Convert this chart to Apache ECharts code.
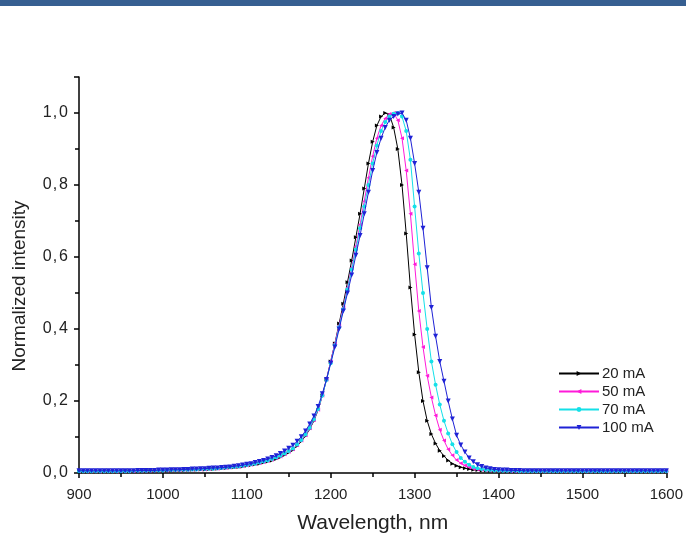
<!DOCTYPE html>
<html>
<head>
<meta charset="utf-8">
<script src="https://cdn.jsdelivr.net/npm/echarts@6/dist/echarts.min.js"></script>
<style>html,body{margin:0;padding:0;background:#fff}#c{width:686px;height:539px}</style>
</head>
<body>
<div id="c"></div>
<script>
const wavelengths = [900,905,910,915,920,925,930,935,940,945,950,955,960,965,970,975,980,985,990,995,1000,
1005,1010,1015,1020,1025,1030,1035,1040,1045,1050,1055,1060,1065,1070,1075,1080,1085,1090,1095,1100,
1105,1110,1115,1120,1125,1130,1135,1140,1145,1150,
1155,1160,1165,1170,1175,1180,1185,1190,1195,1200,1205,1210,1215,1220,1225,1230,1235,1240,1245,1250,1255,1260,1265,1270,
1275,1280,1285,1290,1295,1300,1305,1310,1315,1320,1325,1330,1335,1340,1345,1350,1355,1360,1365,1370,1375,1380,1385,1390,1395,1400,
1405,1410,1415,1420,1425,1430,1435,1440,1445,1450,1455,1460,1465,1470,1475,1480,1485,1490,1495,1500,
1505,1510,1515,1520,1525,1530,1535,1540,1545,1550,1555,1560,1565,1570,1575,1580,1585,1590,1595,1600];

const s20mA = [0.005,0.004,0.004,0.005,0.004,0.004,0.004,0.005,0.004,0.004,0.004,0.005,0.005,0.005,0.005,0.006,0.006,0.006,0.006,0.007,0.007,
0.007,0.007,0.008,0.008,0.008,0.009,0.009,0.009,0.010,0.010,0.011,0.011,0.012,0.013,0.014,0.015,0.016,0.017,0.018,0.020,
0.022,0.024,0.026,0.029,0.032,0.035,0.039,0.044,0.050,0.057,
0.064,0.075,0.088,0.103,0.122,0.145,0.175,0.215,0.26,0.31,0.36,0.415,0.47,0.53,0.59,0.655,0.72,0.79,0.86,0.92,0.965,0.99,1.0,0.995,
0.96,0.90,0.80,0.665,0.515,0.385,0.28,0.20,0.145,0.108,0.082,0.062,0.047,0.035,0.026,0.020,0.016,0.013,0.011,0.009,0.008,0.007,0.007,0.006,0.006,0.006,
0.005,0.005,0.005,0.005,0.005,0.005,0.005,0.005,0.005,0.005,0.005,0.005,0.005,0.004,0.004,0.004,0.004,0.004,0.004,0.004,
0.004,0.004,0.004,0.004,0.004,0.004,0.004,0.004,0.004,0.004,0.004,0.004,0.004,0.004,0.004,0.004,0.004,0.004,0.004,0.004];

const s50mA = [0.005,0.005,0.004,0.005,0.005,0.004,0.005,0.005,0.005,0.004,0.005,0.005,0.005,0.005,0.006,0.006,0.006,0.006,0.007,0.007,0.007,
0.007,0.008,0.008,0.008,0.009,0.009,0.009,0.010,0.010,0.010,0.011,0.012,0.012,0.013,0.014,0.015,0.016,0.017,0.019,0.021,
0.023,0.025,0.027,0.030,0.033,0.037,0.041,0.046,0.052,0.059,
0.066,0.077,0.090,0.105,0.124,0.147,0.176,0.215,0.26,0.31,0.36,0.41,0.46,0.515,0.57,0.63,0.69,0.755,0.82,0.88,0.93,0.965,0.985,0.997,
1.0,0.98,0.93,0.84,0.72,0.58,0.45,0.35,0.27,0.21,0.16,0.12,0.09,0.066,0.049,0.036,0.027,0.021,0.016,0.012,0.010,0.009,0.008,0.007,0.007,0.006,
0.006,0.006,0.005,0.005,0.005,0.005,0.005,0.005,0.005,0.005,0.005,0.005,0.005,0.005,0.005,0.005,0.005,0.005,0.005,0.005,
0.005,0.005,0.005,0.005,0.005,0.005,0.005,0.005,0.005,0.005,0.005,0.005,0.005,0.005,0.005,0.005,0.005,0.005,0.005,0.005];

const s70mA = [0.005,0.005,0.005,0.005,0.005,0.005,0.005,0.005,0.005,0.005,0.005,0.005,0.005,0.006,0.006,0.006,0.006,0.007,0.007,0.007,0.007,
0.008,0.008,0.008,0.009,0.009,0.009,0.010,0.010,0.011,0.011,0.012,0.012,0.013,0.014,0.015,0.016,0.017,0.018,0.020,0.022,
0.024,0.026,0.029,0.032,0.035,0.039,0.043,0.048,0.054,0.061,
0.068,0.079,0.092,0.107,0.126,0.149,0.178,0.215,0.258,0.305,0.355,0.405,0.455,0.51,0.565,0.62,0.68,0.74,0.80,0.86,0.91,0.95,0.975,0.99,
0.998,1.0,0.99,0.95,0.87,0.74,0.61,0.50,0.40,0.31,0.245,0.19,0.145,0.11,0.08,0.058,0.042,0.031,0.023,0.017,0.013,0.011,0.009,0.008,0.007,0.007,
0.006,0.006,0.006,0.006,0.005,0.005,0.005,0.005,0.005,0.005,0.005,0.005,0.005,0.005,0.005,0.005,0.005,0.005,0.005,0.005,
0.005,0.005,0.005,0.005,0.005,0.005,0.005,0.005,0.005,0.005,0.005,0.005,0.005,0.005,0.005,0.005,0.005,0.005,0.005,0.005];

const s100mA = [0.006,0.006,0.006,0.006,0.006,0.006,0.006,0.006,0.006,0.006,0.006,0.006,0.006,0.006,0.007,0.007,0.007,0.007,0.007,0.008,0.008,
0.008,0.009,0.009,0.009,0.010,0.010,0.011,0.011,0.012,0.012,0.013,0.014,0.014,0.015,0.016,0.017,0.019,0.020,0.022,0.024,
0.026,0.029,0.032,0.035,0.039,0.043,0.048,0.054,0.061,0.069,
0.077,0.088,0.101,0.117,0.136,0.158,0.185,0.22,0.26,0.305,0.35,0.40,0.45,0.50,0.55,0.605,0.66,0.72,0.78,0.84,0.89,0.93,0.96,0.98,
0.99,0.997,1.0,0.98,0.93,0.86,0.78,0.68,0.57,0.46,0.38,0.31,0.255,0.20,0.15,0.105,0.078,0.058,0.042,0.031,0.023,0.018,0.014,0.012,0.010,0.009,
0.008,0.008,0.007,0.007,0.007,0.006,0.006,0.006,0.006,0.006,0.006,0.006,0.006,0.006,0.006,0.006,0.006,0.006,0.006,0.006,
0.006,0.006,0.006,0.006,0.006,0.006,0.006,0.006,0.006,0.006,0.006,0.006,0.006,0.006,0.006,0.006,0.006,0.006,0.006,0.006];

const seriesNames = ['20 mA','50 mA','70 mA','100 mA'];
const yTicks = [0,0.2,0.4,0.6,0.8,1.0];
const xTicks = [900,1000,1100,1200,1300,1400,1500,1600];

function pairs(ys){ return wavelengths.map((x,i)=>[x,ys[i]]); }

const styles = [
  {color:'#000000', symbol:'triangle', rotate:-90, size:4},
  {color:'#ff1ad9', symbol:'triangle', rotate:90, size:4},
  {color:'#14e0e8', symbol:'circle', rotate:0, size:4},
  {color:'#1f22d6', symbol:'triangle', rotate:180, size:5}
];
const dataSets = [s20mA, s50mA, s70mA, s100mA];
const FONT = 'Liberation Sans, Arial, sans-serif';

const chart = echarts.init(document.getElementById('c'), null, {renderer:'canvas'});
chart.setOption({
  animation:false,
  backgroundColor:'#ffffff',
  graphic:[{type:'rect', left:0, top:0, shape:{width:686, height:6}, style:{fill:'#365f91'}}],
  grid:{left:79, right:19, top:77, bottom:66},
  legend:{
    orient:'vertical', left:553, top:361, itemWidth:40, itemHeight:6, itemGap:3,
    textStyle:{fontFamily:FONT, fontSize:15, color:'#222', padding:[0,0,0,-2]},
    data:seriesNames
  },
  xAxis:{
    type:'value', min:900, max:1600, interval:100,
    name:'Wavelength, nm', nameLocation:'middle', nameGap:40,
    nameTextStyle:{fontFamily:FONT, fontSize:21, color:'#222'},
    axisLine:{lineStyle:{color:'#000', width:1.5}},
    axisTick:{inside:false, length:5, lineStyle:{color:'#000', width:1.5}},
    minorTick:{show:true, splitNumber:2, length:4, lineStyle:{color:'#000', width:1.5}},
    axisLabel:{fontFamily:FONT, fontSize:15, color:'#222', margin:14,
      formatter:function(v){ return xTicks.indexOf(v) >= 0 ? String(v) : ''; }},
    splitLine:{show:false}
  },
  yAxis:{
    type:'value', min:0, max:1.1, interval:0.2,
    name:'Normalized intensity', nameLocation:'middle', nameGap:50,
    nameTextStyle:{fontFamily:FONT, fontSize:19, color:'#222', padding:[0,22,0,0]},
    axisLine:{show:true, lineStyle:{color:'#000', width:1.5}},
    axisTick:{show:true, inside:false, length:5, lineStyle:{color:'#000', width:1.5}},
    minorTick:{show:true, splitNumber:2, length:4, lineStyle:{color:'#000', width:1.5}},
    axisLabel:{fontFamily:FONT, fontSize:16, color:'#222', margin:11,
      formatter:function(v){
        if (yTicks.indexOf(Math.round(v*10)/10) < 0) return '';
        const p = v.toFixed(1).split('.');
        return '{n|' + p[0] + '}{c|,}{n|' + p[1] + '}';
      },
      rich:{n:{fontFamily:FONT, fontSize:16, color:'#222'}, c:{fontFamily:FONT, fontSize:16, color:'#222', padding:[0,2,0,1]}}
    },
    splitLine:{show:false}
  },
  series: dataSets.map((d,i)=>({
    name:seriesNames[i], type:'line', data:pairs(d),
    symbol:styles[i].symbol, symbolSize:styles[i].size, symbolRotate:styles[i].rotate,
    showAllSymbol:true,
    lineStyle:{color:styles[i].color, width:1},
    itemStyle:{color:styles[i].color},
    z: 2+i
  }))
});
</script>
</body>
</html>
